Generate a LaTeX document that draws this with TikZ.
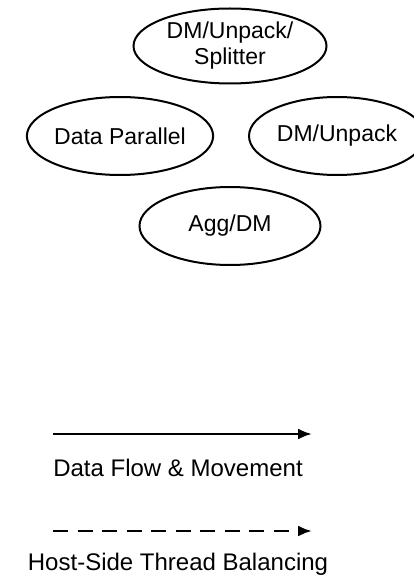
\documentclass[tikz,border=0pt]{standalone}
\usepackage{fontspec}
\setmainfont{Liberation Sans}
\usetikzlibrary{shapes.geometric,arrows.meta}
\tikzset{
  stage/.style={ellipse, draw=black, line width=2pt, inner sep=0pt,
    minimum width=181pt, minimum height=78pt, align=center,
    font=\fontsize{23}{26}\selectfont},
  legendline/.style={line width=2.6pt,
    -{Latex[length=14pt,width=11pt]}},
  legendtext/.style={font=\fontsize{24}{28}\selectfont, inner sep=0pt}
}
\begin{document}
\begin{tikzpicture}[x=1pt,y=-1pt]
  \useasboundingbox (0,0) rectangle (413,577);
  % processing stages
  \node[stage, minimum width=193pt, minimum height=75pt] (split) at (230,46) {DM/Unpack/\\Splitter};
  \node[stage] (dp) at (120,136) {Data Parallel};
  \node[stage, minimum width=176pt] (unpack) at (337,136) {DM/Unpack};
  \node[stage] (agg) at (230,226) {Agg/DM};
  % legend
  \coordinate (solidA) at (53,434);
  \coordinate (solidB) at (312,434);
  \draw[legendline] (solidA) -- (solidB);
  \node[legendtext] (flowlbl) at (178,468) {Data Flow \& Movement};
  \coordinate (dashA) at (53,531);
  \coordinate (dashB) at (312,531);
  \draw[legendline, dash pattern=on 15pt off 9.5pt] (dashA) -- (dashB);
  \node[legendtext] (balancelbl) at (178,564) {Host-Side Thread Balancing};
\end{tikzpicture}
\end{document}
